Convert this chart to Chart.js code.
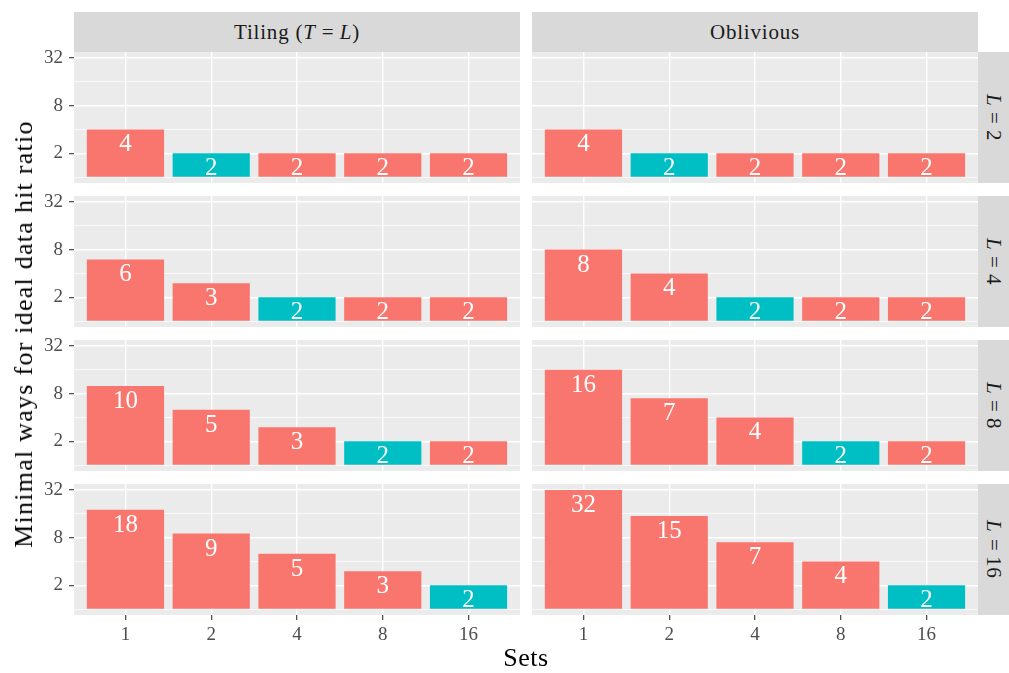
<!DOCTYPE html>
<html>
<head>
<meta charset="utf-8">
<script src="https://cdn.jsdelivr.net/npm/chart.js@4.4.1/dist/chart.umd.min.js"></script>
<style>
  body { margin: 0; background: #fff; }
  #fig { position: relative; width: 1009px; height: 673px; overflow: hidden; font-family: "Liberation Serif", serif; }
  #fig canvas { position: absolute; }
  .strip { position: absolute; background: #D9D9D9; color: #1A1A1A; font-size: 21px; letter-spacing: 0.8px;
           display: flex; align-items: center; justify-content: center; white-space: nowrap; }
  .vstrip { writing-mode: vertical-rl; }
  .eq { margin-inline: 6px; letter-spacing: 0; }
  .title { position: absolute; color: #000; font-size: 26px; line-height: 26px; white-space: nowrap; z-index: 2; }
</style>
</head>
<body>
<div id="fig"></div>
<script>
// Minimal number of ways reaching the ideal data hit ratio, per scheme and line size L
const setsLabels = ['1', '2', '4', '8', '16'];
const lineSizes = [2, 4, 8, 16];
const schemeNames = ['Tiling', 'Oblivious'];

const tilingL2 = [4, 2, 2, 2, 2];
const tilingL4 = [6, 3, 2, 2, 2];
const tilingL8 = [10, 5, 3, 2, 2];
const tilingL16 = [18, 9, 5, 3, 2];

const obliviousL2 = [4, 2, 2, 2, 2];
const obliviousL4 = [8, 4, 2, 2, 2];
const obliviousL8 = [16, 7, 4, 2, 2];
const obliviousL16 = [32, 15, 7, 4, 2];

const yMajorTicks = [2, 8, 32];
const yAllGridValues = [1, 2, 4, 8, 16, 32];

const tilingRows = [tilingL2, tilingL4, tilingL8, tilingL16];
const obliviousRows = [obliviousL2, obliviousL4, obliviousL8, obliviousL16];

// Styling
const FONT = '"Liberation Serif", serif';
const barColor = '#F8766D';
const idealColor = '#00BFC4';

// Facet geometry
const panelLeft = [74, 532];
const panelW = 446;
const panelTop = [52, 196, 340, 484];
const panelH = 131;
const yAxisW = 50;
const xAxisH = 40;
const labelRoom = 12; // extra canvas above left panels so the top tick label is not cut

const fig = document.getElementById('fig');

// Panel background behind grid lines
const panelBg = {
  id: 'panelBg',
  beforeDraw(chart) {
    const { ctx, chartArea: a } = chart;
    ctx.save();
    ctx.fillStyle = '#EBEBEB';
    ctx.fillRect(a.left, a.top, a.right - a.left, a.bottom - a.top);
    ctx.restore();
  }
};

// Value labels just inside the top of each bar
const barLabels = {
  id: 'barLabels',
  afterDatasetsDraw(chart) {
    const { ctx } = chart;
    const meta = chart.getDatasetMeta(0);
    const values = chart.data.datasets[0].data;
    ctx.save();
    ctx.fillStyle = '#FFFFFF';
    ctx.font = '25px ' + FONT;
    ctx.textAlign = 'center';
    ctx.textBaseline = 'alphabetic';
    meta.data.forEach((bar, i) => {
      ctx.fillText(String(values[i].y), bar.x, bar.y + 22);
    });
    ctx.restore();
  }
};

function addText(cls, html, style) {
  const d = document.createElement('div');
  d.className = cls;
  d.innerHTML = html;
  Object.assign(d.style, style);
  fig.appendChild(d);
  return d;
}

// Column strips
addText('strip', 'Tiling (<i>T</i><span class="eq">=</span><i>L</i>)', { left: panelLeft[0] + 'px', top: '12px', width: panelW + 'px', height: '40px' });
addText('strip', schemeNames[1], { left: panelLeft[1] + 'px', top: '12px', width: panelW + 'px', height: '40px' });

// Row strips
lineSizes.forEach((L, r) => {
  addText('strip vstrip', '<i>L</i><span class="eq">=</span>' + L, { left: '978px', top: panelTop[r] + 'px', width: '31px', height: panelH + 'px' });
});

// Axis titles
addText('title', 'Sets', { left: '526px', top: '645px', transform: 'translateX(-50%)', letterSpacing: '0.5px' });
addText('title', 'Minimal ways for ideal data hit ratio', {
  left: '24px', top: '334px', transform: 'translate(-50%, -50%) rotate(-90deg)', letterSpacing: '1.25px'
});

function makePanel(values, L, r, c) {
  const leftCol = c === 0;
  const bottom = r === lineSizes.length - 1;
  const left = leftCol ? panelLeft[0] - yAxisW : panelLeft[1];
  const padTop = leftCol ? labelRoom : 0;
  const w = panelW + (leftCol ? yAxisW : 0);
  const h = panelH + padTop + (bottom ? xAxisH : 0);

  const canvas = document.createElement('canvas');
  canvas.width = w;
  canvas.height = h;
  canvas.style.left = left + 'px';
  canvas.style.top = (panelTop[r] - padTop) + 'px';
  canvas.style.width = w + 'px';
  canvas.style.height = h + 'px';
  fig.appendChild(canvas);

  const noPad = s => { s.paddingTop = 0; s.paddingBottom = 0; s.paddingLeft = 0; s.paddingRight = 0; };

  new Chart(canvas, {
    type: 'bar',
    data: {
      datasets: [{
        data: values.map((v, i) => ({ x: i + 1, y: v })),
        base: 1,
        backgroundColor: values.map((v, i) => Number(setsLabels[i]) === L ? idealColor : barColor),
        borderWidth: 0,
        barPercentage: 0.9,
        categoryPercentage: 1
      }]
    },
    options: {
      responsive: false,
      animation: false,
      devicePixelRatio: 1,
      layout: { padding: { top: padTop, left: 0, right: 0, bottom: 0 } },
      plugins: { legend: { display: false }, tooltip: { enabled: false } },
      scales: {
        x: {
          type: 'linear',
          min: 0.4,
          max: 5.6,
          offset: false,
          afterBuildTicks: s => { s.ticks = setsLabels.map((_, i) => ({ value: i + 1 })); },
          afterFit: s => { s.height = bottom ? xAxisH : 0; noPad(s); },
          ticks: {
            display: bottom,
            autoSkip: false,
            maxRotation: 0,
            padding: 4,
            color: '#4D4D4D',
            font: { family: FONT, size: 19 },
            callback: v => setsLabels[v - 1]
          },
          grid: {
            offset: false,
            color: '#FFFFFF',
            lineWidth: 1.4,
            drawTicks: bottom,
            tickLength: 5,
            tickColor: '#333333',
            tickWidth: 1.1
          },
          border: { display: false }
        },
        y: {
          type: 'logarithmic',
          min: Math.pow(2, -0.25),
          max: Math.pow(2, 5.25),
          afterBuildTicks: s => { s.ticks = yAllGridValues.map(v => ({ value: v })); },
          afterFit: s => { s.width = leftCol ? yAxisW : 0; noPad(s); },
          ticks: {
            display: leftCol,
            autoSkip: false,
            padding: 6,
            color: '#4D4D4D',
            font: { family: FONT, size: 19 },
            callback: v => yMajorTicks.includes(v) ? String(v) : ''
          },
          grid: {
            color: '#FFFFFF',
            lineWidth: ctx => (ctx.tick && yMajorTicks.includes(ctx.tick.value)) ? 1.4 : 0.7,
            drawTicks: leftCol,
            tickLength: 5,
            tickColor: ctx => (ctx.tick && yMajorTicks.includes(ctx.tick.value)) ? '#333333' : 'rgba(0,0,0,0)',
            tickWidth: 1.1
          },
          border: { display: false }
        }
      }
    },
    plugins: [panelBg, barLabels]
  });
}

lineSizes.forEach((L, r) => {
  makePanel(tilingRows[r], L, r, 0);
  makePanel(obliviousRows[r], L, r, 1);
});
</script>
</body>
</html>
